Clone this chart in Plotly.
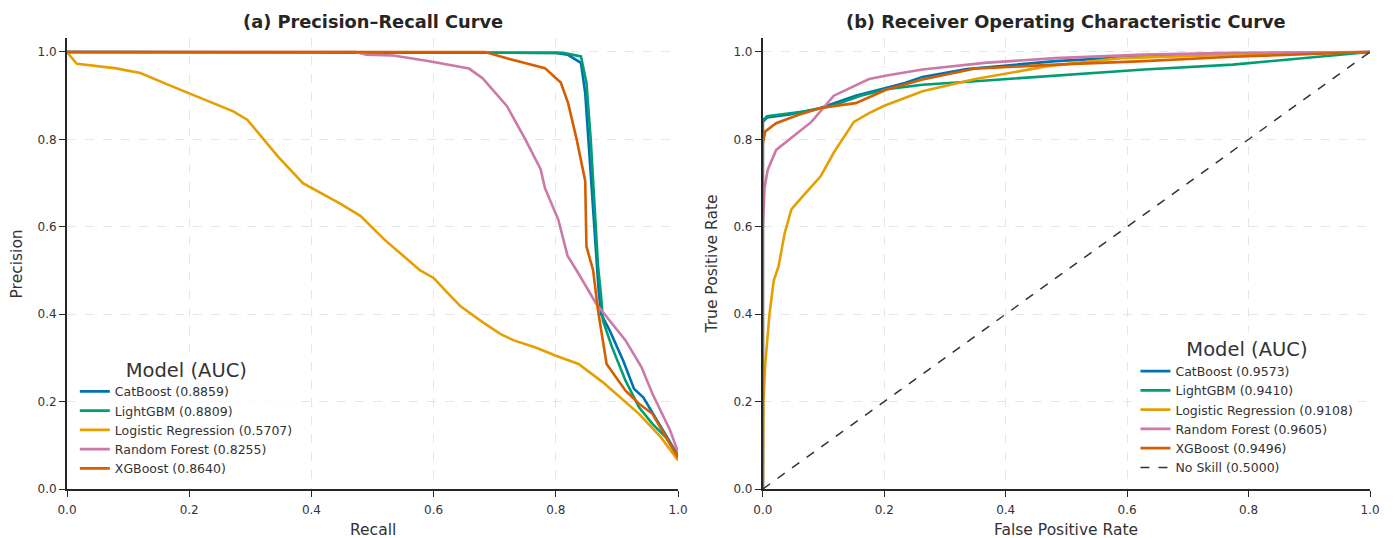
import plotly.graph_objects as go

models = ["CatBoost", "LightGBM", "Logistic Regression", "Random Forest", "XGBoost"]
colors = ["#0072b2", "#009e73", "#e69f00", "#cc79a7", "#d55e00"]
pr_auc = [0.8859, 0.8809, 0.5707, 0.8255, 0.8640]
roc_auc = [0.9573, 0.9410, 0.9108, 0.9605, 0.9496]
noskill_auc = 0.5000

# Precision-Recall curves
pr_recall = {
    "CatBoost": [0, 0.80, 0.819, 0.841, 0.848, 0.855, 0.863, 0.870, 0.874, 0.888, 0.910, 0.928, 0.943, 0.961, 1.0],
    "LightGBM": [0, 0.812, 0.841, 0.850, 0.857, 0.863, 0.869, 0.874, 0.877, 0.892, 0.914, 0.936, 0.958, 0.980, 1.0],
    "Logistic Regression": [0, 0.016, 0.078, 0.12, 0.169, 0.22, 0.272, 0.295, 0.345, 0.386, 0.447, 0.48, 0.52,
                            0.578, 0.60, 0.622, 0.644, 0.68, 0.709, 0.731, 0.768, 0.80, 0.837, 0.877, 0.914,
                            0.936, 0.972, 1.0],
    "Random Forest": [0, 0.472, 0.49, 0.534, 0.593, 0.658, 0.68, 0.72, 0.75, 0.775, 0.782, 0.804, 0.819, 0.834,
                      0.866, 0.914, 0.94, 0.958, 0.987, 1.0],
    "XGBoost": [0, 0.684, 0.724, 0.782, 0.808, 0.82, 0.834, 0.848, 0.85, 0.861, 0.869, 0.883, 0.914, 0.936,
                0.958, 1.0],
}
pr_precision = {
    "CatBoost": [1.0, 0.998, 0.994, 0.975, 0.906, 0.76, 0.58, 0.454, 0.40, 0.363, 0.294, 0.229, 0.21, 0.168, 0.076],
    "LightGBM": [1.0, 0.998, 0.99, 0.93, 0.80, 0.662, 0.51, 0.44, 0.385, 0.324, 0.248, 0.187, 0.149, 0.118, 0.073],
    "Logistic Regression": [1.0, 0.973, 0.963, 0.952, 0.923, 0.893, 0.864, 0.845, 0.761, 0.70, 0.653, 0.625, 0.57,
                            0.50, 0.483, 0.45, 0.418, 0.382, 0.355, 0.34, 0.323, 0.305, 0.286, 0.244, 0.198,
                            0.172, 0.118, 0.065],
    "Random Forest": [1.0, 1.0, 0.994, 0.992, 0.979, 0.962, 0.94, 0.876, 0.80, 0.732, 0.689, 0.616, 0.534, 0.50,
                      0.424, 0.34, 0.279, 0.218, 0.134, 0.084],
    "XGBoost": [1.0, 1.0, 0.984, 0.963, 0.93, 0.883, 0.80, 0.705, 0.555, 0.50, 0.408, 0.286, 0.225, 0.195,
                0.172, 0.072],
}

# ROC curves
roc_fpr = {
    "CatBoost": [0, 0, 0.007, 0.044, 0.095, 0.153, 0.204, 0.234, 0.263, 0.336, 0.482, 0.628, 0.774, 1.0],
    "LightGBM": [0, 0, 0.007, 0.044, 0.08, 0.117, 0.161, 0.204, 0.263, 0.35, 0.482, 0.628, 0.774, 1.0],
    "Logistic Regression": [0, 0.001, 0.004, 0.011, 0.018, 0.026, 0.036, 0.047, 0.066, 0.095, 0.117, 0.15,
                            0.175, 0.2, 0.263, 0.35, 0.467, 0.59, 0.774, 1.0],
    "Random Forest": [0, 0, 0.003, 0.008, 0.022, 0.044, 0.08, 0.117, 0.139, 0.175, 0.204, 0.263, 0.365, 0.482,
                      0.628, 0.774, 1.0],
    "XGBoost": [0, 0, 0.004, 0.022, 0.058, 0.095, 0.153, 0.204, 0.263, 0.35, 0.482, 0.628, 0.774, 1.0],
}
roc_tpr = {
    "CatBoost": [0, 0.84, 0.85, 0.857, 0.872, 0.90, 0.918, 0.929, 0.943, 0.961, 0.979, 0.99, 0.996, 1.0],
    "LightGBM": [0, 0.844, 0.853, 0.86, 0.866, 0.878, 0.90, 0.915, 0.925, 0.933, 0.946, 0.96, 0.971, 1.0],
    "Logistic Regression": [0, 0.195, 0.286, 0.40, 0.477, 0.51, 0.585, 0.64, 0.67, 0.715, 0.77, 0.84, 0.86,
                            0.877, 0.91, 0.938, 0.967, 0.986, 0.994, 1.0],
    "Random Forest": [0, 0.60, 0.69, 0.73, 0.776, 0.80, 0.84, 0.90, 0.914, 0.938, 0.946, 0.96, 0.975, 0.986,
                      0.994, 0.998, 1.0],
    "XGBoost": [0, 0.79, 0.818, 0.837, 0.856, 0.872, 0.883, 0.914, 0.937, 0.962, 0.971, 0.979, 0.989, 1.0],
}
noskill_x = [0, 1]
noskill_y = [0, 1]

ticks = [0.0, 0.2, 0.4, 0.6, 0.8, 1.0]
tick_text = ["0.0", "0.2", "0.4", "0.6", "0.8", "1.0"]

FONT = "DejaVu Sans"
fig = go.Figure()

for m, c, a in zip(models, colors, pr_auc):
    fig.add_trace(go.Scatter(x=pr_recall[m], y=pr_precision[m], mode="lines",
                             line=dict(color=c, width=2.6), name=f"{m} ({a:.4f})",
                             legend="legend", xaxis="x", yaxis="y"))
for m, c, a in zip(models, colors, roc_auc):
    fig.add_trace(go.Scatter(x=roc_fpr[m], y=roc_tpr[m], mode="lines",
                             line=dict(color=c, width=2.6), name=f"{m} ({a:.4f})",
                             legend="legend2", xaxis="x2", yaxis="y2"))
fig.add_trace(go.Scatter(x=noskill_x, y=noskill_y, mode="lines",
                         line=dict(color="#333333", width=1.5, dash="dash"),
                         name=f"No Skill ({noskill_auc:.4f})", legend="legend2", xaxis="x2", yaxis="y2"))

axis_common = dict(
    range=[0, 1], tickvals=ticks, ticktext=tick_text, automargin=False,
    showline=True, linecolor="#262626", linewidth=1.8,
    ticks="outside", ticklen=6, tickwidth=1.2, tickcolor="#262626",
    showgrid=True, gridcolor="#e6e6e6", griddash="dash", gridwidth=1,
    zeroline=False, tickfont=dict(family=FONT, size=12, color="#333333"),
)
xaxis_extra = dict(ticklabelstandoff=3)

TITLE_FONT = dict(size=15.5, family=FONT, color="#333333")

fig.update_layout(
    width=1392, height=530,
    paper_bgcolor="white", plot_bgcolor="white",
    margin=dict(l=59, r=30, t=30, b=49, autoexpand=False),
    font=dict(family=FONT, color="#333333"),
    xaxis=dict(domain=[0, 0.469], **axis_common, **xaxis_extra),
    yaxis=dict(domain=[0, 1], **{**axis_common, "range": [0, 1.032]}),
    xaxis2=dict(domain=[0.534, 1.0], anchor="y2", **axis_common, **xaxis_extra),
    yaxis2=dict(domain=[0, 1], anchor="x2", **{**axis_common, "range": [0, 1.032]}),
    legend=dict(x=0.006, y=0.305, xanchor="left", yanchor="top",
                bgcolor="rgba(255,255,255,0.8)",
                title=dict(text="Model (AUC)", font=dict(size=19.5, family=FONT, color="#333333"), side="top center"),
                font=dict(size=12.5, family=FONT, color="#333333"), tracegroupgap=0),
    legend2=dict(x=0.82, y=0.35, xanchor="left", yanchor="top",
                 bgcolor="rgba(255,255,255,0.8)",
                 title=dict(text="Model (AUC)", font=dict(size=19.5, family=FONT, color="#333333"), side="top center"),
                 font=dict(size=12.5, family=FONT, color="#333333"), tracegroupgap=0),
    annotations=[
        dict(text="<b>(a) Precision–Recall Curve</b>", x=0.2345, y=1.0, xref="paper", yref="paper",
             xanchor="center", yanchor="bottom", yshift=4, showarrow=False,
             font=dict(size=17.8, family=FONT, color="#262626")),
        dict(text="<b>(b) Receiver Operating Characteristic Curve</b>", x=0.767, y=1.0, xref="paper",
             yref="paper", xanchor="center", yshift=4, yanchor="bottom", showarrow=False,
             font=dict(size=17.8, family=FONT, color="#262626")),
        dict(text="Recall", x=0.2345, y=-0.0909, xref="paper", yref="paper",
             xanchor="center", yanchor="middle", showarrow=False, font=TITLE_FONT),
        dict(text="False Positive Rate", x=0.767, y=-0.0909, xref="paper", yref="paper",
             xanchor="center", yanchor="middle", showarrow=False, font=TITLE_FONT),
        dict(text="Precision", x=-0.0384, y=0.5, xref="paper", yref="paper", textangle=-90,
             xanchor="center", yanchor="middle", showarrow=False, font=TITLE_FONT),
        dict(text="True Positive Rate", x=0.495, y=0.5, xref="paper", yref="paper", textangle=-90,
             xanchor="center", yanchor="middle", showarrow=False, font=TITLE_FONT),
    ],
)

fig.write_html("out.html")
